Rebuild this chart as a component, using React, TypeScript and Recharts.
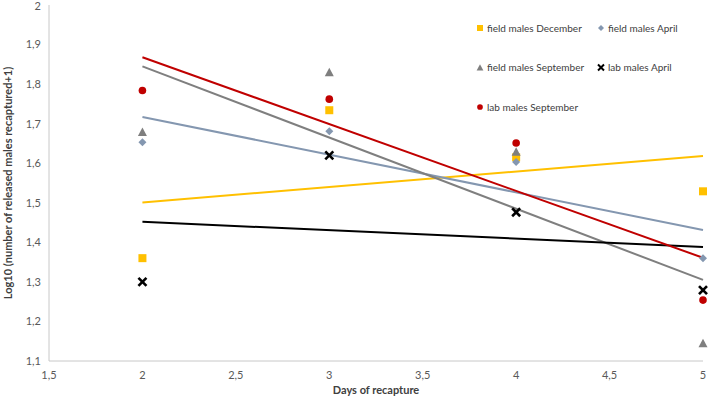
import { ComposedChart, Scatter, XAxis, YAxis } from "recharts";

const xTicks = [1.5, 2, 2.5, 3, 3.5, 4, 4.5, 5];
const yTicks = [1.1, 1.2, 1.3, 1.4, 1.5, 1.6, 1.7, 1.8, 1.9, 2];

const days = [2, 3, 4, 5];
const fieldDecember = [1.36, 1.734, 1.615, 1.529];
const fieldApril = [1.653, 1.681, 1.603, 1.36];
const fieldSeptember = [1.679, 1.83, 1.629, 1.145];
const labApril = [1.3, 1.62, 1.476, 1.279];
const labSeptember = [1.784, 1.762, 1.651, 1.254];

// trend line end points (x = 2 and x = 5)
const trendDays = [2, 5];
const trendFieldDecember = [1.501, 1.618];
const trendFieldApril = [1.717, 1.431];
const trendFieldSeptember = [1.845, 1.305];
const trendLabApril = [1.452, 1.388];
const trendLabSeptember = [1.868, 1.361];

const FONT = "Lato, 'Open Sans', sans-serif";

type Kind = "square" | "diamond" | "triangle" | "cross" | "circle";

const series: { name: string; kind: Kind; color: string; values: number[]; trend: number[] }[] = [
  { name: "field males December", kind: "square", color: "#FFC000", values: fieldDecember, trend: trendFieldDecember },
  { name: "field males April", kind: "diamond", color: "#8497B0", values: fieldApril, trend: trendFieldApril },
  { name: "field males September", kind: "triangle", color: "#7F7F7F", values: fieldSeptember, trend: trendFieldSeptember },
  { name: "lab males April", kind: "cross", color: "#000000", values: labApril, trend: trendLabApril },
  { name: "lab males September", kind: "circle", color: "#C00000", values: labSeptember, trend: trendLabSeptember },
];

function Marker({ kind, color, cx, cy, s = 1 }: { kind: Kind; color: string; cx: number; cy: number; s?: number }) {
  if (kind === "square") return <rect x={cx - 4 * s} y={cy - 4 * s} width={8 * s} height={8 * s} fill={color} />;
  if (kind === "diamond")
    return <polygon points={`${cx},${cy - 4 * s} ${cx + 4 * s},${cy} ${cx},${cy + 4 * s} ${cx - 4 * s},${cy}`} fill={color} />;
  if (kind === "triangle")
    return <polygon points={`${cx},${cy - 4.5 * s} ${cx + 4.5 * s},${cy + 4 * s} ${cx - 4.5 * s},${cy + 4 * s}`} fill={color} />;
  if (kind === "cross")
    return (
      <g stroke={color} strokeWidth={2.6 * s} strokeLinecap="butt">
        <line x1={cx - 4 * s} y1={cy - 4 * s} x2={cx + 4 * s} y2={cy + 4 * s} />
        <line x1={cx - 4 * s} y1={cy + 4 * s} x2={cx + 4 * s} y2={cy - 4 * s} />
      </g>
    );
  return <circle cx={cx} cy={cy} r={3.8 * s} fill={color} />;
}

const legendRows = [
  [series[0], series[1]],
  [series[2], series[3]],
  [series[4]],
];

function LegendBox() {
  return (
    <svg width={240} height={110} style={{ position: "absolute", left: 476, top: 18, overflow: "visible" }}>
      {legendRows.map((row, r) =>
        row.map((item, c) => (
          <g key={item.name} transform={`translate(${c * 121}, ${r * 39.5})`}>
            <Marker kind={item.kind} color={item.color} cx={4} cy={10} s={0.75} />
            <text x={11} y={13.5} fontSize={10} fontFamily={FONT} fill="#404040">
              {item.name}
            </text>
          </g>
        ))
      )}
    </svg>
  );
}

const fmt = (v: number) => String(v).replace(".", ",");

export default function App() {
  return (
    <div style={{ position: "absolute", left: 0, top: 0, width: 709, height: 402, background: "#fff" }}>
      <ComposedChart width={709} height={402} margin={{ top: 5, right: 6, bottom: 0, left: 0 }}>
        <XAxis
          type="number"
          dataKey="x"
          domain={[1.5, 5]}
          ticks={xTicks}
          tickFormatter={fmt}
          tickLine={false}
          tickMargin={4}
          height={41}
          stroke="#c8c8c8"
          tick={{ fill: "#595959", fontSize: 11, fontFamily: FONT }}
          label={{ value: "Days of recapture", position: "center", dy: 9, fontSize: 11, fontWeight: 700, fontFamily: FONT, fill: "#404040" }}
        />
        <YAxis
          type="number"
          dataKey="y"
          domain={[1.1, 2]}
          ticks={yTicks}
          tickFormatter={fmt}
          tickLine={false}
          width={49}
          stroke="#c8c8c8"
          tick={{ fill: "#595959", fontSize: 11, fontFamily: FONT }}
          label={{
            value: "Log10 (number of released males recaptured+1)",
            angle: -90,
            position: "center",
            dx: -16,
            fontSize: 11,
            fontWeight: 700,
            fontFamily: FONT,
            fill: "#404040",
          }}
        />
        {series.map((s) => (
          <Scatter
            key={`trend-${s.name}`}
            name={`trend ${s.name}`}
            data={trendDays.map((d, i) => ({ x: d, y: s.trend[i] }))}
            line={{ stroke: s.color, strokeWidth: 2 }}
            shape={() => <g />}
            legendType="none"
            isAnimationActive={false}
          />
        ))}
        {series.map((s) => (
          <Scatter
            key={s.name}
            name={s.name}
            data={days.map((d, i) => ({ x: d, y: s.values[i] }))}
            fill={s.color}
            shape={(p: any) => <Marker kind={s.kind} color={s.color} cx={p.cx} cy={p.cy} />}
            isAnimationActive={false}
          />
        ))}
      </ComposedChart>
      <LegendBox />
    </div>
  );
}
